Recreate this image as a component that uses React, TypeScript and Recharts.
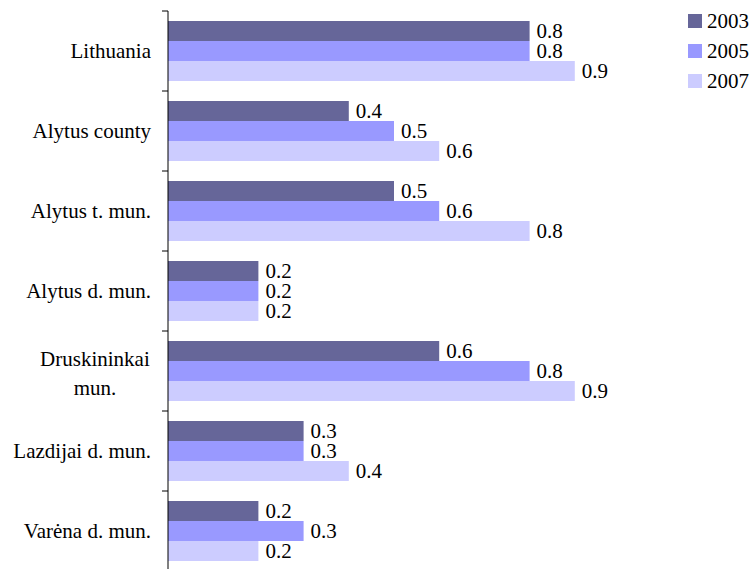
import React from 'react';
import { BarChart, Bar, XAxis, YAxis, LabelList } from 'recharts';

// Regions and values per survey year
const regions = [
  'Lithuania',
  'Alytus county',
  'Alytus t. mun.',
  'Alytus d. mun.',
  'Druskininkai mun.',
  'Lazdijai d. mun.',
  'Varėna d. mun.',
];
const values2003 = [0.8, 0.4, 0.5, 0.2, 0.6, 0.3, 0.2];
const values2005 = [0.8, 0.5, 0.6, 0.2, 0.8, 0.3, 0.3];
const values2007 = [0.9, 0.6, 0.8, 0.2, 0.9, 0.4, 0.2];
const years = ['2003', '2005', '2007'];

const colors = ['#666699', '#9999FF', '#CCCCFF'];
const FONT = 'Liberation Serif';
const FONT_SIZE = 21;

const WIDTH = 752;
const HEIGHT = 576;
const MARGIN = { top: 11, right: 132, bottom: 5, left: 0 };
const AXIS_WIDTH = 168;
const plotHeight = HEIGHT - MARGIN.top - MARGIN.bottom;
const band = plotHeight / regions.length;

const textStyle = { fontFamily: FONT, fontSize: FONT_SIZE, fill: '#000' };

// long names wrap onto two lines like the original table headings
const wrapped: Record<string, string[]> = {
  'Druskininkai mun.': ['Druskininkai', 'mun.'],
};

const data = regions.map((name, i) => ({
  name,
  y2003: values2003[i],
  y2005: values2005[i],
  y2007: values2007[i],
}));

const RegionTick = ({ y, payload, index }: any) => {
  const lines = wrapped[payload.value] || [payload.value];
  const textRight = AXIS_WIDTH - 17;
  const isLast = index === regions.length - 1;
  let label;
  if (lines.length === 1) {
    label = (
      <text x={textRight} y={y} dy="0.35em" textAnchor="end" style={textStyle}>
        {lines[0]}
      </text>
    );
  } else {
    const longest = Math.max(...lines.map((l) => l.length));
    const cx = textRight - (longest * FONT_SIZE * 0.445) / 2;
    const lh = 29;
    label = (
      <text textAnchor="middle" style={textStyle}>
        {lines.map((l, k) => (
          <tspan key={k} x={cx} y={y + 2 + (k - (lines.length - 1) / 2) * lh} dy="0.35em">
            {l}
          </tspan>
        ))}
      </text>
    );
  }
  return (
    <g>
      <line x1={AXIS_WIDTH - 6} x2={AXIS_WIDTH} y1={y - band / 2} y2={y - band / 2} stroke="#000" />
      {isLast && (
        <line x1={AXIS_WIDTH - 6} x2={AXIS_WIDTH} y1={y + band / 2} y2={y + band / 2} stroke="#000" />
      )}
      {label}
    </g>
  );
};

const Legend = () => (
  <div style={{ position: 'absolute', left: 688, top: 6, fontFamily: FONT, fontSize: FONT_SIZE }}>
    {years.map((yr, i) => (
      <div key={yr} style={{ display: 'flex', alignItems: 'center', height: 30 }}>
        <div style={{ width: 14, height: 14, background: colors[i], marginRight: 5 }} />
        <span>{yr}</span>
      </div>
    ))}
  </div>
);

const App = () => {
  return (
    <div style={{ position: 'absolute', left: 0, top: 0, width: WIDTH, height: 569, overflow: 'hidden', background: '#fff', fontFamily: FONT }}>
      <BarChart
        width={WIDTH}
        height={HEIGHT}
        data={data}
        layout="vertical"
        margin={MARGIN}
        barCategoryGap={10}
        barGap={0}
        style={{ fontFamily: FONT }}
      >
        <XAxis type="number" domain={[0, 1]} hide />
        <YAxis
          type="category"
          dataKey="name"
          width={AXIS_WIDTH}
          axisLine={{ stroke: '#000' }}
          tickLine={false}
          tick={<RegionTick />}
          interval={0}
        />
        <Bar dataKey="y2003" fill={colors[0]} isAnimationActive={false}>
          <LabelList dataKey="y2003" position="right" offset={7} style={textStyle} />
        </Bar>
        <Bar dataKey="y2005" fill={colors[1]} isAnimationActive={false}>
          <LabelList dataKey="y2005" position="right" offset={7} style={textStyle} />
        </Bar>
        <Bar dataKey="y2007" fill={colors[2]} isAnimationActive={false}>
          <LabelList dataKey="y2007" position="right" offset={7} style={textStyle} />
        </Bar>
      </BarChart>
      <Legend />
    </div>
  );
};

export default App;
